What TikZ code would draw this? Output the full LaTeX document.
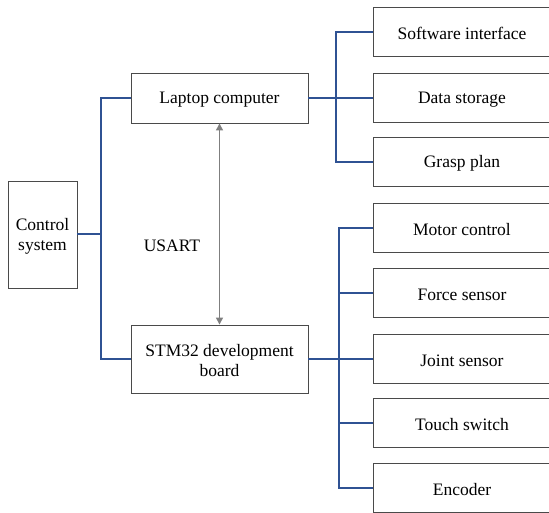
\documentclass[tikz,border=0pt]{standalone}
\usepackage{fontspec}
\setmainfont{Liberation Serif}
\usetikzlibrary{arrows.meta}
\definecolor{busblue}{HTML}{2F5293}
\definecolor{boxedge}{HTML}{4A4A4A}
\definecolor{linkgray}{HTML}{7F7F7F}
\begin{document}
\begin{tikzpicture}[x=1pt,y=-1pt,
  label font/.style={font=\fontsize{17.5}{20}\selectfont},
  caption/.style={label font,align=center,inner sep=0pt,yshift=-1.5pt},
  blockbox/.style={draw=boxedge,line width=0.9pt,fill=white,inner sep=0pt},
  bus/.style={draw=busblue,line width=1.5pt},
  link/.style={draw=linkgray,line width=1.3pt,{Triangle[length=7pt,width=7pt]}-{Triangle[length=7pt,width=7pt]}}]
\useasboundingbox (0,0) rectangle (549,512);
% left column
\node[blockbox,minimum width=69pt,minimum height=107pt] (ctrl) at (42.5,234.5) {};
\node[caption] (ctrl-txt) at (ctrl) {Control\\system};
\node[blockbox,minimum width=177pt,minimum height=50pt] (pc) at (219.5,98) {};
\node[caption] (pc-txt) at (pc) {Laptop computer};
\node[blockbox,minimum width=177pt,minimum height=68pt] (mcu) at (219.5,359) {};
\node[caption] (mcu-txt) at (mcu) {STM32 development\\board};
% right column (boxes run past the right edge)
\foreach \name/\y/\txt in {sw/32/Software interface, ds/98/Data storage, gp/162/Grasp plan,
  mc/228/Motor control, fs/293/Force sensor, js/359/Joint sensor, ts/423/Touch switch, enc/488/Encoder}{
  \node[blockbox,minimum width=178pt,minimum height=49pt] (\name) at (462,\y) {};
  \node[caption] (\name-txt) at (\name) {\txt};
}
% control bus
\coordinate (b1) at (101,234);
\draw[bus] (ctrl.east |- b1) -- (b1);
\draw[bus] (pc.west) -| (b1) |- (mcu.west);
% laptop bus
\coordinate (b2) at (336,98);
\draw[bus] (pc.east) -- (b2);
\draw[bus] (sw.west) -| (b2) |- (gp.west);
\draw[bus] (b2) -- (ds.west);
% board bus
\coordinate (b3) at (339,359);
\draw[bus] (mcu.east) -- (b3);
\draw[bus] (mc.west) -| (b3) |- (enc.west);
\draw[bus] (fs.west) -| (b3);
\draw[bus] (js.west) -- (b3);
\draw[bus] (ts.west) -| (b3);
% serial link
\draw[link] (pc.south) -- (mcu.north);
\node[caption] (usart) at (172,244) {USART};
\end{tikzpicture}
\end{document}
